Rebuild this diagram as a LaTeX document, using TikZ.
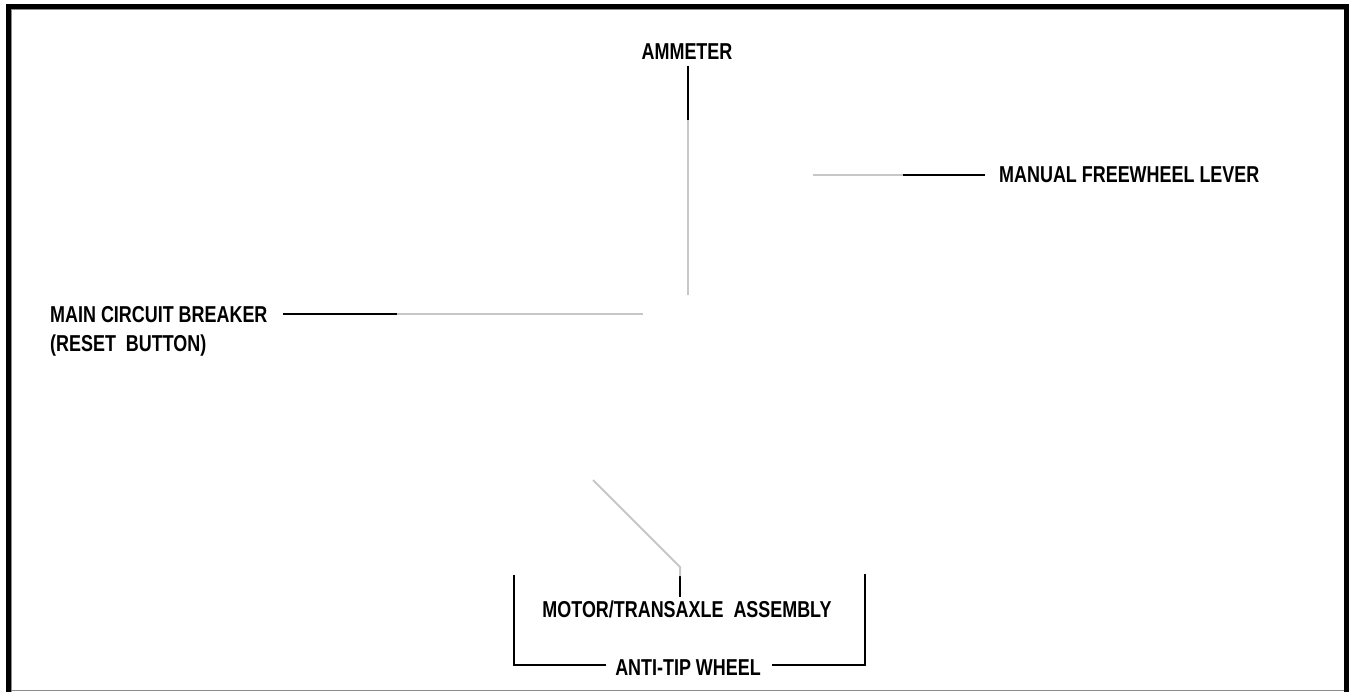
\documentclass[tikz,border=0pt]{standalone}
\usepackage{fontspec}
\setmainfont[FakeStretch=0.78]{Liberation Sans}
\begin{document}
\begin{tikzpicture}[x=1pt,y=-1pt,
  lbl/.style={inner sep=0pt,font=\fontsize{23}{30}\selectfont\bfseries},
  blk/.style={draw=black,line width=2pt},
  gry/.style={draw=black!22,line width=2pt}]
\useasboundingbox (0,0) rectangle (1349,692);
% frame
\fill[black] (6,4) rectangle (1349,9);
\fill[black] (6,4) rectangle (11,692);
\fill[black] (1344,4) rectangle (1349,692);
\draw[black!45,line width=1pt] (11,9.5) -- (1344,9.5);
\draw[black!45,line width=1pt] (11.5,9) -- (11.5,692);
\draw[black!45,line width=1.5pt] (11,690.5) -- (1344,690.5);
% ammeter
\node[lbl] (amm) at (687,52) {AMMETER};
\coordinate (a1) at (688,66);
\coordinate (a2) at (688,120);
\coordinate (a3) at (688,295);
\draw[blk] (a1) -- (a2);
\draw[gry] (a2) -- (a3);
% manual freewheel lever
\node[lbl,anchor=west] (mfl) at (999,175) {MANUAL FREEWHEEL LEVER};
\coordinate (m1) at (985,175);
\coordinate (m2) at (903,175);
\coordinate (m3) at (813,175);
\draw[blk] (m1) -- (m2);
\draw[gry] (m2) -- (m3);
% main circuit breaker
\node[lbl,anchor=west] (mcb) at (50,315) {MAIN CIRCUIT BREAKER};
\node[lbl,anchor=west] (rst) at (50,346) {(RESET\ \ BUTTON)};
\coordinate (c1) at (283,314);
\coordinate (c2) at (397,314);
\coordinate (c3) at (643,314);
\draw[blk] (c1) -- (c2);
\draw[gry] (c2) -- (c3);
% motor/transaxle
\node[lbl] (mot) at (687,609) {MOTOR/TRANSAXLE\ \ ASSEMBLY};
\coordinate (t1) at (680,597);
\coordinate (t2) at (680,576);
\coordinate (t3) at (680,567);
\coordinate (t4) at (593,480);
\draw[blk] (t1) -- (t2);
\draw[gry] (t2) -- (t3) -- (t4);
% anti-tip wheel
\node[lbl] (atw) at (688,668) {ANTI-TIP WHEEL};
\coordinate (w1) at (514,575);
\coordinate (w2) at (514,665);
\coordinate (w3) at (606,665);
\coordinate (w4) at (772,665);
\coordinate (w5) at (865,665);
\coordinate (w6) at (865,574);
\draw[blk] (w1) -- (w2) -- (w3);
\draw[blk] (w4) -- (w5) -- (w6);
\end{tikzpicture}
\end{document}
